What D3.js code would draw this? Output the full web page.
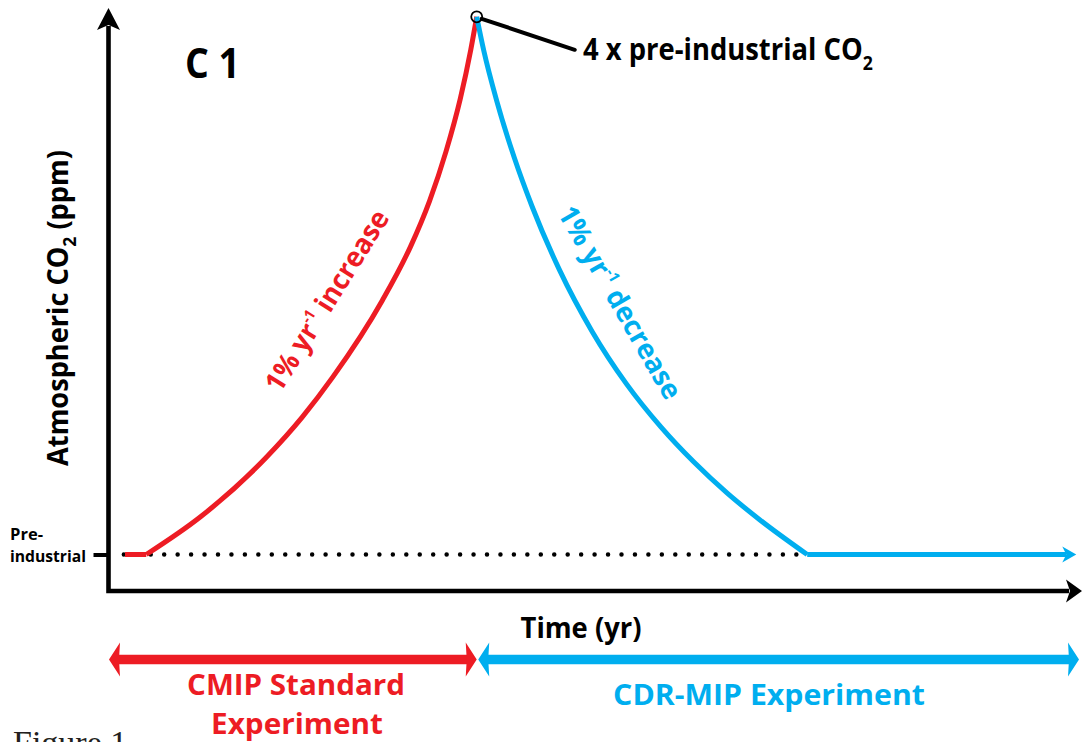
<!DOCTYPE html>
<html>
<head>
<meta charset="utf-8">
<script src="https://d3js.org/d3.v7.min.js"></script>
<style>
  html, body { margin: 0; padding: 0; background: #fff; }
  svg { display: block; }
  text { font-family: "Open Sans", "Noto Sans", sans-serif; font-weight: 700; }
</style>
</head>
<body>
<div id="chart"></div>
<script>
var id = '#chart'

// values (years since start, CO2 in ppm)
var preIndustrial = 285
var peakYear = 140
var peakPpm = 1140
var spinupYears = [-9, 0]
var riseYears = [0, 23, 51, 66, 79, 100, 112, 120, 127, 133, 137.5, 140]
var risePpm = [285, 345, 440, 503, 567, 689, 775, 847, 926, 1009, 1088, 1140]
var fallYears = [140, 143, 148.5, 156, 163.5, 175, 189, 203.5, 218, 232, 246, 260, 280]
var fallPpm = [1140, 1086, 1006, 915, 838, 738, 639, 556, 488, 432, 383, 340, 285]
var stableYears = [280, 394]
var dottedYears = [-9.5, 275.5]
var timeDomain = [-16, 396]
var ppmDomain = [227, 1154]

var red = '#ED1C24', blue = '#00AEEF'

var W = 1082, H = 742

var svg = d3.select(id).append('svg')
  .attr('width', W)
  .attr('height', H)

var x = d3.scaleLinear().domain(timeDomain).range([108.5, 1081])
var y = d3.scaleLinear().domain(ppmDomain).range([591, 8])

var line = d3.line()
  .x(d => x(d[0]))
  .y(d => y(d[1]))

// put a label at (px,py), rotated, squeezed to a target width
function label(px, py, angle, target, build) {
  var g = svg.append('g').attr('transform', 'translate(' + px + ',' + py + ') rotate(' + angle + ')')
  var t = g.append('text')
  build(t)
  var w = t.node().getBBox().width
  t.attr('transform', 'scale(' + (target / w) + ',1)')
  return t
}

// dotted pre-industrial reference
svg.append('path')
  .attr('d', line(dottedYears.map(d => [d, preIndustrial])))
  .attr('fill', 'none')
  .attr('stroke', '#000')
  .attr('stroke-width', 4.5)
  .attr('stroke-linecap', 'round')
  .attr('stroke-dasharray', '0 13.45')

// axes
var x0 = x.range()[0], x1 = x.range()[1]
var yBase = y.range()[0], yTop = y.range()[1]
svg.append('path')
  .attr('d', 'M' + x0 + ',' + (yTop + 18) + 'V' + yBase + 'H' + (x1 - 12))
  .attr('fill', 'none')
  .attr('stroke', '#000')
  .attr('stroke-width', 4.6)
  .attr('stroke-linejoin', 'miter')
svg.append('path')
  .attr('d', 'M' + x0 + ',' + yTop + 'L' + (x0 - 11.5) + ',' + (yTop + 22) + 'L' + x0 + ',' + (yTop + 17) + 'L' + (x0 + 11.5) + ',' + (yTop + 22) + 'Z')
  .attr('fill', '#000')
svg.append('path')
  .attr('d', 'M' + (x1 + 1) + ',' + yBase + 'L' + (x1 - 15) + ',' + (yBase - 11.5) + 'L' + (x1 - 11) + ',' + yBase + 'L' + (x1 - 15) + ',' + (yBase + 11.5) + 'Z')
  .attr('fill', '#000')

var tick = svg.append('g')
  .attr('transform', 'translate(' + x0 + ',0)')
  .call(d3.axisLeft(y).tickValues([preIndustrial]).tickSize(15).tickFormat(''))
tick.select('.domain').remove()
tick.selectAll('line').attr('stroke', '#000').attr('stroke-width', 4)

// red: spin-up and 1% increase
svg.append('path')
  .attr('d', line(spinupYears.map(d => [d, preIndustrial])))
  .attr('fill', 'none').attr('stroke', red).attr('stroke-width', 5)
svg.append('path')
  .attr('d', line.curve(d3.curveMonotoneX)(riseYears.map((d, i) => [d, risePpm[i]])))
  .attr('fill', 'none').attr('stroke', red).attr('stroke-width', 5)

// blue: 1% decrease and stable
svg.append('path')
  .attr('d', line.curve(d3.curveMonotoneX)(fallYears.map((d, i) => [d, fallPpm[i]])))
  .attr('fill', 'none').attr('stroke', blue).attr('stroke-width', 5)
line.curve(d3.curveLinear)
var sx = x(stableYears[1]), sy = y(preIndustrial)
svg.append('path')
  .attr('d', line(stableYears.map(d => [d, preIndustrial])).replace(/L[^L]*$/, 'L' + (sx - 10) + ',' + sy))
  .attr('fill', 'none').attr('stroke', blue).attr('stroke-width', 5)
svg.append('path')
  .attr('d', 'M' + sx + ',' + sy + 'L' + (sx - 14) + ',' + (sy - 8) + 'L' + (sx - 10) + ',' + sy + 'L' + (sx - 14) + ',' + (sy + 8) + 'Z')
  .attr('fill', blue)

// peak marker and leader
var px = x(peakYear), py = y(peakPpm)
svg.append('line')
  .attr('x1', px + 5).attr('y1', py + 2)
  .attr('x2', px + 98).attr('y2', py + 33)
  .attr('stroke', '#000').attr('stroke-width', 4).attr('stroke-linecap', 'round')
svg.append('circle')
  .attr('cx', px).attr('cy', py).attr('r', 5.5)
  .attr('fill', 'none').attr('stroke', '#000').attr('stroke-width', 1.8)

// bottom phase arrows
function doubleArrow(a, b, yy, color) {
  svg.append('line')
    .attr('x1', a + 8).attr('x2', b - 8).attr('y1', yy).attr('y2', yy)
    .attr('stroke', color).attr('stroke-width', 9.5)
  svg.append('path')
    .attr('d', 'M' + a + ',' + yy + 'L' + (a + 11) + ',' + (yy - 17) + 'L' + (a + 10) + ',' + yy + 'L' + (a + 11) + ',' + (yy + 17) + 'Z'
      + 'M' + b + ',' + yy + 'L' + (b - 11) + ',' + (yy - 17) + 'L' + (b - 10) + ',' + yy + 'L' + (b - 11) + ',' + (yy + 17) + 'Z')
    .attr('fill', color)
}
doubleArrow(x0 + 0.5, px, 659.5, red)
doubleArrow(px + 1.5, x1 - 2, 659.5, blue)

// texts
label(185, 78, 0, 55, t => t.attr('font-size', 42).text('C 1'))

label(583, 60, 0, 290, t => {
  t.attr('font-size', 31).text('4 x pre-industrial CO')
  t.append('tspan').attr('font-size', 20).attr('dy', 10).text('2')
})

label(68, 308, -90, 316, t => {
  t.attr('font-size', 28).attr('text-anchor', 'middle').text('Atmospheric CO')
  t.append('tspan').attr('font-size', 18).attr('dy', 8).text('2')
  t.append('tspan').attr('dy', -8).text(' (ppm)')
})

label(10, 540, 0, 33, t => t.attr('font-size', 16).text('Pre-'))
label(10, 562, 0, 76, t => t.attr('font-size', 16).text('industrial'))

label(581, 638, 0, 121, t => t.attr('font-size', 28).attr('text-anchor', 'middle').text('Time (yr)'))

label(280, 394, -58, 208, t => {
  t.attr('font-size', 28).attr('fill', red).text('1% yr')
  t.append('tspan').attr('font-size', 15).attr('dy', -12).text('-1')
  t.append('tspan').attr('dy', 12).text(' increase')
})

label(557, 213, 60, 218, t => {
  t.attr('font-size', 28).attr('fill', blue).text('1% yr')
  t.append('tspan').attr('font-size', 15).attr('dy', -12).text('-1')
  t.append('tspan').attr('dy', 12).text(' decrease')
})

label(296, 695, 0, 218, t => t.attr('font-size', 28).attr('fill', red).attr('text-anchor', 'middle').text('CMIP Standard'))
label(297, 734, 0, 172, t => t.attr('font-size', 28).attr('fill', red).attr('text-anchor', 'middle').text('Experiment'))
label(769, 705, 0, 312, t => t.attr('font-size', 28).attr('fill', blue).attr('text-anchor', 'middle').text('CDR-MIP Experiment'))

// caption, cut by the bottom edge as in the source
svg.append('text')
  .attr('x', 13).attr('y', 754)
  .attr('font-size', 34)
  .style('font-family', '"Liberation Serif", "DejaVu Serif", serif')
  .style('font-weight', 400)
  .attr('fill', '#231f20')
  .text('Figure 1')
</script>
</body>
</html>
